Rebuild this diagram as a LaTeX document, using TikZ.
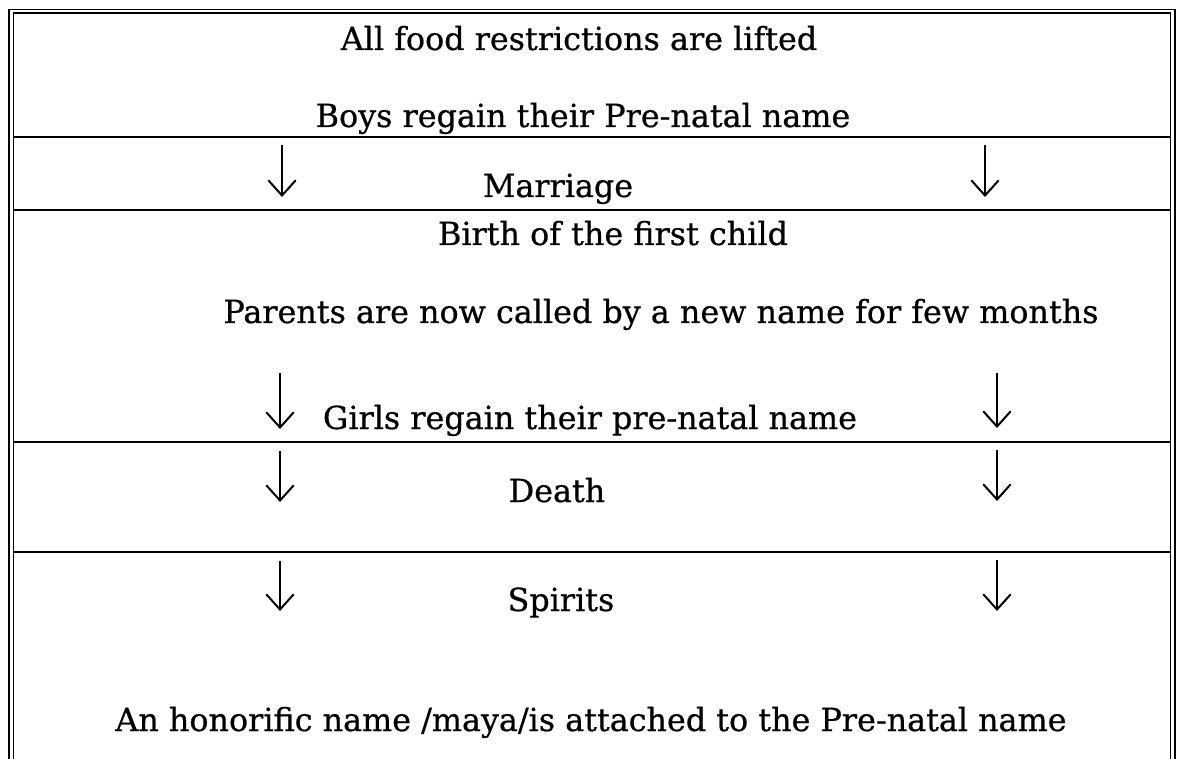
\documentclass[tikz,border=0pt]{standalone}
\usepackage{fontspec}
\setmainfont[FakeBold=0.6]{DejaVu Serif}
\usetikzlibrary{arrows.meta}
\begin{document}
\begin{tikzpicture}[x=1pt,y=-1pt,
  lbl/.style={anchor=base,inner sep=0pt,font=\fontsize{31.8}{38}\selectfont},
  rule/.style={line width=1.6pt},
  frame/.style={line width=1.3pt},
  darrow/.style={line width=2pt,-{Straight Barb[length=15pt,width=27pt,line cap=round]}}]
\useasboundingbox (0,0) rectangle (1178,759);
% frame (double on top, left and right)
\draw[frame] (9,759) -- (9,9.5) -- (1175,9.5) -- (1175,759);
\draw[frame] (13.5,759) -- (13.5,13) -- (1170.5,13) -- (1170.5,759);
% row rules
\draw[rule] (13.5,137) -- (1170.5,137);
\draw[rule] (13.5,210) -- (1170.5,210);
\draw[rule] (13.5,442) -- (1170.5,442);
\draw[rule] (13.5,552) -- (1170.5,552);
% texts
\node[lbl] (food) at (579,50) {All food restrictions are lifted};
\node[lbl] (boys) at (583,127) {Boys regain their Pre-natal name};
\node[lbl] (marriage) at (558,197) {Marriage};
\node[lbl] (birth) at (613,245) {Birth of the first child};
\node[lbl] (parents) at (661,323) {Parents are now called by a new name for few months};
\node[lbl] (girls) at (590,429) {Girls regain their pre-natal name};
\node[lbl] (death) at (557,502) {Death};
\node[lbl] (spirits) at (561,611) {Spirits};
\node[lbl] (honor) at (591,731) {An honorific name /maya/is attached to the Pre-natal name};
% arrow end points
\coordinate (mL1) at (282,145); \coordinate (mL2) at (282,197);
\coordinate (mR1) at (985,145); \coordinate (mR2) at (985,197);
\coordinate (gL1) at (280,373); \coordinate (gL2) at (280,429);
\coordinate (gR1) at (997,373); \coordinate (gR2) at (997,428);
\coordinate (dL1) at (280,451); \coordinate (dL2) at (280,502);
\coordinate (dR1) at (997,450); \coordinate (dR2) at (997,501);
\coordinate (sL1) at (280,561); \coordinate (sL2) at (280,611);
\coordinate (sR1) at (997,560); \coordinate (sR2) at (997,611);
% arrows
\draw[darrow] (mL1) -- (mL2);
\draw[darrow] (mR1) -- (mR2);
\draw[darrow] (gL1) -- (gL2);
\draw[darrow] (gR1) -- (gR2);
\draw[darrow] (dL1) -- (dL2);
\draw[darrow] (dR1) -- (dR2);
\draw[darrow] (sL1) -- (sL2);
\draw[darrow] (sR1) -- (sR2);
\end{tikzpicture}
\end{document}
